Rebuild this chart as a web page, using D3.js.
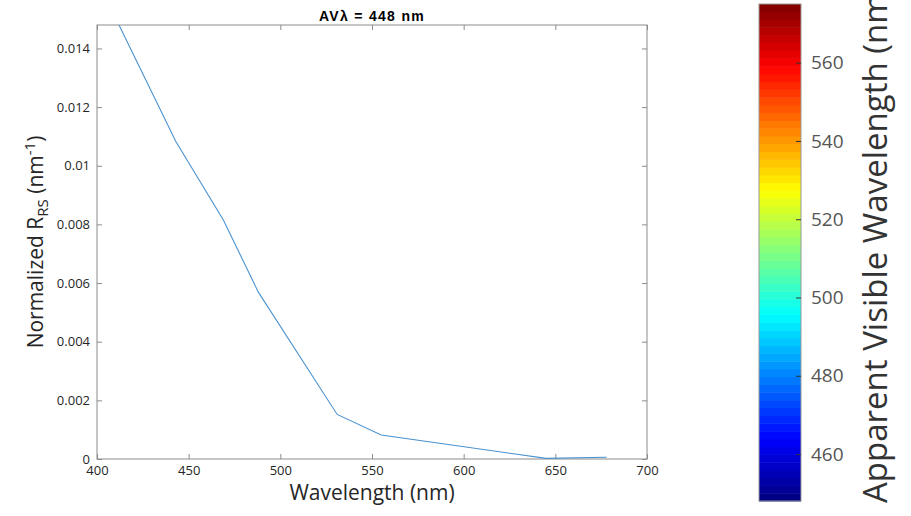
<!DOCTYPE html>
<html>
<head>
<meta charset="utf-8">
<script src="https://cdn.jsdelivr.net/npm/d3@7"></script>
<style>
  html, body { margin: 0; padding: 0; background: #fff; }
  svg { display: block; }
</style>
</head>
<body>
<svg id="chart" width="911" height="516"></svg>
<script>
// ---- data ----
const wavelengths = [412, 443, 469, 488, 531, 555, 645, 678];
const normRrs = [0.0148, 0.01083, 0.00814, 0.00569, 0.00152, 0.00082, 0.00002, 0.00006];
const xTicks = [400, 450, 500, 550, 600, 650, 700];
const yTicks = [0, 0.002, 0.004, 0.006, 0.008, 0.01, 0.012, 0.014];
const cbTicks = [460, 480, 500, 520, 540, 560];
const cbDomain = [448, 575];
const titleText = "AV\u03bb = 448 nm";

// ---- layout ----
const svg = d3.select("#chart");
const L = 97, R = 647, T = 25, B = 459;
const x = d3.scaleLinear().domain([400, 700]).range([L, R]);
const y = d3.scaleLinear().domain([0, 0.0148]).range([B, T]);
const axisColor = "#8c8c8c";
const textColor = "#262626";
const font = "'Open Sans', 'Noto Sans', sans-serif";

// box
svg.append("rect").attr("x", L).attr("y", T).attr("width", R - L).attr("height", B - T)
  .attr("fill", "#fff").attr("stroke", axisColor).attr("stroke-width", 1);

const fmtY = d => d === 0 ? "0" : String(+d.toFixed(3));
const tk = 5;

function styleAxis(g, showText) {
  g.select(".domain").remove();
  g.selectAll(".tick line").attr("stroke", axisColor).attr("stroke-width", 1);
  g.selectAll(".tick text").attr("fill", textColor).style("font-family", font).style("font-size", "13px");
  if (!showText) g.selectAll(".tick text").remove();
}

svg.append("g").attr("transform", `translate(0,${B})`)
  .call(d3.axisBottom(x).tickValues(xTicks).tickSizeInner(-tk).tickSizeOuter(0).tickPadding(tk + 2).tickFormat(d3.format("d")))
  .call(g => styleAxis(g, true));
svg.append("g").attr("transform", `translate(0,${T})`)
  .call(d3.axisTop(x).tickValues(xTicks).tickSizeInner(-tk).tickSizeOuter(0))
  .call(g => styleAxis(g, false));
svg.append("g").attr("transform", `translate(${L},0)`)
  .call(d3.axisLeft(y).tickValues(yTicks).tickSizeInner(-tk).tickSizeOuter(0).tickPadding(tk + 2).tickFormat(fmtY))
  .call(g => styleAxis(g, true));
svg.append("g").attr("transform", `translate(${R},0)`)
  .call(d3.axisRight(y).tickValues(yTicks).tickSizeInner(-tk).tickSizeOuter(0))
  .call(g => styleAxis(g, false));

// clip + line
svg.append("clipPath").attr("id", "clip").append("rect")
  .attr("x", L).attr("y", T).attr("width", R - L).attr("height", B - T);
const pts = wavelengths.map((w, i) => [w, normRrs[i]]);
svg.append("path").datum(pts)
  .attr("clip-path", "url(#clip)")
  .attr("fill", "none").attr("stroke", "#4a92cf").attr("stroke-width", 1.1)
  .attr("d", d3.line().x(d => x(d[0])).y(d => y(d[1])));

// title
svg.append("text").attr("x", (L + R) / 2).attr("y", 20.5).attr("text-anchor", "middle")
  .style("font-family", "'Liberation Sans', Arial, sans-serif").style("font-weight", "bold")
  .style("font-size", "14px").style("letter-spacing", "1.3px")
  .attr("fill", "#000").text(titleText);

// x label
svg.append("text").attr("x", (L + R) / 2).attr("y", 500).attr("text-anchor", "middle")
  .style("font-family", font).style("font-size", "21px").attr("fill", textColor).text("Wavelength (nm)");

// y label
const yl = svg.append("text").attr("transform", `translate(43,${(T + B) / 2}) rotate(-90)`)
  .attr("text-anchor", "middle").style("font-family", font).style("font-size", "21px").attr("fill", textColor);
yl.append("tspan").text("Normalized R");
yl.append("tspan").attr("dy", 5).style("font-size", "15px").text("RS");
yl.append("tspan").attr("dy", -5).text(" (nm");
yl.append("tspan").attr("dy", -8).style("font-size", "15px").text("-1");
yl.append("tspan").attr("dy", 8).text(")");

// colorbar
function jet(t) {
  const c = v => Math.max(0, Math.min(1, v));
  const r = c(1.5 - Math.abs(4 * t - 3));
  const g = c(1.5 - Math.abs(4 * t - 2));
  const b = c(1.5 - Math.abs(4 * t - 1));
  return d3.rgb(r * 255, g * 255, b * 255).toString();
}
const cbL = 759, cbR = 801, cbT = 4, cbB = 501;
const cy = d3.scaleLinear().domain(cbDomain).range([cbB, cbT]);
const nBands = 64;
const bands = d3.range(nBands);
const bandScale = d3.scaleLinear().domain([0, nBands]).range(cbDomain);
svg.append("g").selectAll("rect").data(bands).join("rect")
  .attr("x", cbL).attr("width", cbR - cbL)
  .attr("y", i => cy(bandScale(i + 1)))
  .attr("height", i => cy(bandScale(i)) - cy(bandScale(i + 1)) + 0.5)
  .attr("fill", i => jet((i + 0.5) / nBands));
svg.append("rect").attr("x", cbL).attr("y", cbT).attr("width", cbR - cbL).attr("height", cbB - cbT)
  .attr("fill", "none").attr("stroke", "#999").attr("stroke-width", 1);
const cbAxis = svg.append("g").attr("transform", `translate(${cbR},0)`)
  .call(d3.axisRight(cy).tickValues(cbTicks).tickSizeInner(-5).tickSizeOuter(0).tickPadding(10).tickFormat(d3.format("d")));
cbAxis.select(".domain").remove();
cbAxis.selectAll(".tick line").attr("stroke", "#333").attr("stroke-width", 1);
cbAxis.selectAll(".tick text").attr("fill", "#555").style("font-family", font).style("font-size", "19px");

svg.append("text").attr("transform", `translate(887,${cbB + 2}) rotate(-90)`)
  .attr("text-anchor", "start").style("font-family", font).style("font-size", "33px")
  .attr("fill", "#333").text("Apparent Visible Wavelength (nm)");
</script>
</body>
</html>
